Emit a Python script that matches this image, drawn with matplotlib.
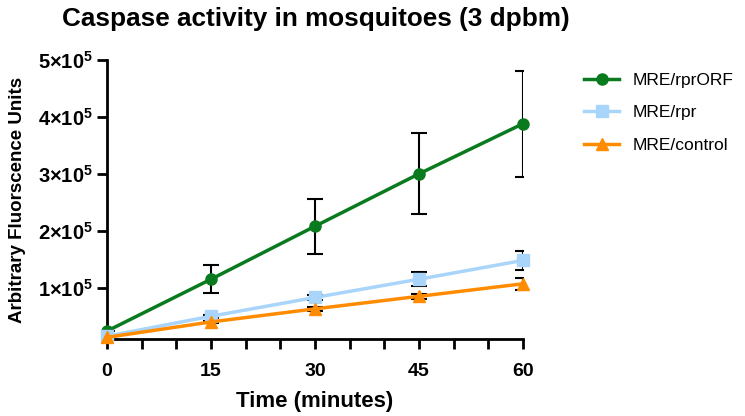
import matplotlib
matplotlib.use('Agg')
import matplotlib.pyplot as plt
from matplotlib.ticker import MultipleLocator, FuncFormatter

plt.rcParams['font.family'] = ['Liberation Sans', 'DejaVu Sans']
plt.rcParams['mathtext.fontset'] = 'custom'
plt.rcParams['mathtext.rm'] = 'Liberation Sans:bold'
plt.rcParams['mathtext.bf'] = 'Liberation Sans:bold'
plt.rcParams['mathtext.default'] = 'bf'

# datos
tiempo = [0, 15, 30, 45, 60]
rprORF = [24000, 115000, 208000, 300000, 388000]
rprORF_err = [0, 25000, 48000, 71000, 93000]
rpr = [15000, 50000, 83000, 115000, 148000]
rpr_err = [0, 3000, 4000, 12000, 16000]
control = [13000, 40000, 63000, 85000, 107000]
control_err = [0, 2000, 3000, 4000, 11000]

etiquetas = ['MRE/rprORF', 'MRE/rpr', 'MRE/control']
colores = ['#0a7a1e', '#a9d5fa', '#ff8c00']
marcadores = ['o', 's', '^']

fig = plt.figure(figsize=(7.45, 4.16), dpi=100)
ax = fig.add_axes([0.1436, 0.185, 0.5584, 0.671])

series = [(rprORF, rprORF_err), (rpr, rpr_err), (control, control_err)]
for (y, e), lab, c, m in zip(series, etiquetas, colores, marcadores):
    ax.errorbar(tiempo, y, yerr=e, fmt='none', ecolor='black', elinewidth=1.5,
                capsize=6, capthick=1.5, zorder=2)
    ax.plot(tiempo, y, color=c, marker=m, markersize=8, linewidth=2.5,
            label=lab, zorder=3, clip_on=False)

ax.set_xlim(0, 60)
ax.set_ylim(10000, 500000)
ax.xaxis.set_major_locator(MultipleLocator(15))
ax.xaxis.set_minor_locator(MultipleLocator(5))
ax.set_yticks([100000, 200000, 300000, 400000, 500000])
ax.yaxis.set_major_formatter(FuncFormatter(lambda v, p: r'$%d{\times}10^5$' % round(v / 1e5)))

for s in ['top', 'right']:
    ax.spines[s].set_visible(False)
for s in ['left', 'bottom']:
    ax.spines[s].set_linewidth(2)
ax.tick_params(axis='y', which='major', width=2, length=7, labelsize=14.5, pad=3)
ax.tick_params(axis='x', which='major', width=2, length=7, labelsize=14, pad=10)
ax.tick_params(axis='x', which='minor', width=2, length=7)
for t in ax.get_xticklabels():
    t.set_fontweight('bold')

ax.set_xlabel('Time (minutes)', fontsize=16, fontweight='bold', labelpad=8)
ax.set_ylabel('Arbitrary Fluorscence Units', fontsize=13.5, fontweight='bold', labelpad=9)
fig.text(0.083, 0.955, 'Caspase activity in mosquitoes (3 dpbm)', fontsize=18.8,
         fontweight='bold', va='center')

ax.legend(loc='upper left', bbox_to_anchor=(1.11, 1.01), frameon=False, fontsize=12.5,
          handlelength=2, labelspacing=1.0)

fig.savefig('out.png', dpi=100)
